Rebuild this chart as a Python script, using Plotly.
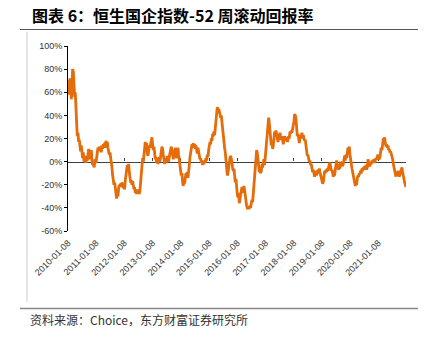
import plotly.graph_objects as go
import pandas as pd

# 52-week rolling return of Hang Seng China Enterprises Index (%)
rolling_return_pct = [
    # early 2010 - early 2011
    62, 70, 58, 72, 66, 54, 62, 80, 78, 62, 56, 60, 48, 40, 22, 25, 17, 19, 11, 9,
    14, 6, 3, 8, 0, 2, 5, -1, 4, 1, 7, 11, 2, 8, 3, 10, 1, -3, -1, -5,
    -2, 2, -1,
    # 2011
    4, 10, 12, 9, 13, 10, 13, 8, 14, 11, 15, 13, 16, 12, 18, 14, 17, 12, 10, 6,
    8, 4, 1, -5, -12, -15, -20, -18, -24, -28, -32, -27, -30, -23, -20, -22, -19, -21, -18, -20,
    # 2012
    -23, -20, -24, -16, -12, -8, -3, -6, -2, -9, -13, -18, -16, -20, -17, -21, -24, -22, -27, -24,
    -28, -25, -27, -24, -28, -25,
    # 2012 end - 2014
    -19, -10, -4, 3, 0, 8, 14, 17, 13, 16, 7, 5, 9, 14, 12, 17, 20, 21, 15, 10,
    13, 5, 2, 4, -1, 2, -2, 1, 4, 0, 3, 9, 13, 11, 6, 1, -2, 3, -1, 1,
    5, 2, 0, 4, 8, 11, 13, 9, 4, 2, 7, 10, 12, 6, 3, 8, 12, 6,
    # 2014 - 2016
    -1, -4, -8, -12, -10, -18, -21, -16, -19, -14, -10, -12, -9, -14, -10, -3, 4, 9, 13, 15,
    12, 16, 13, 15, 11, 14, 10, 7, 12, 9, 5, 2, 3, -1, 1, -3, 0, -2, 1, -1,
    3, 1, 6, 4, 10, 14, 17, 15, 20, 18, 24, 22, 26, 23, 30, 33, 44, 47, 45, 45,
    44, 40, 38, 40, 33, 25, 18, 14, 12, 8, 2, -6, -12, -10, -5, 0, 3, 5, 3, 0,
    -6, -8,
    # 2016 - 2017
    -6, -13, -18, -15, -25, -28, -31, -27, -36, -33, -28, -25, -22, -27, -24, -21, -25, -32, -35, -38,
    -40, -41, -39, -41, -38, -40, -36, -33, -35, -28, -22, -14, -5, 3, 10, 8, 1, -5, -9, -6,
    -10, -8, -2, -5, 0, 2, -3, 4, 10,
    # 2017 - 2018
    14, 19, 30, 38, 33, 24, 18, 14, 16, 11, 14, 20, 26, 22, 27, 24, 21, 17, 20, 23,
    25, 21, 19, 22, 16, 15, 19, 22, 20, 18, 21, 17, 19, 22, 20, 26, 24, 27, 25, 28,
    30, 35, 41, 40, 37, 28, 22, 24, 18, 16, 20, 23, 20, 25, 21, 23, 20, 18, 19, 12,
    # 2018 - 2021
    7, 5, 6, 3, 0, 1, -3, -2, -5, -9, -7, -10, -13, -11, -8, -12, -9, -7, -10, -6,
    -9, -12, -14, -16, -19, -18, -13, -8, -10, -7, -9, -6, -8, -4, -2, -1, -5, -8, -7, -11,
    -13, -11, -12, -7, -3, 1, -2, -4, -7, -3, -6, 0, -2, -1, -4, -2, 2, 5, 1, 6,
    3, 8, 12, 10, 13, 6, 0, -2, -6, -9, -12, -15, -19, -21, -18, -20, -14, -12, -13, -10,
    -11, -8, -10, -6, -8, -5, -7, -4, -6, -3, -7, -5, 2, -1, -3, -4, -1, -2, 1, -1,
    0, 2, -1, 1, 3, 2, 5, 6, 3, 2, 4, 7, 12, 10, 16, 20, 18, 21, 16, 13,
    15, 12, 14, 10, 11, 8, 9, 7, 5, 2, -2, -5, -8, -11, -13, -9, -12, -8, -10, -13,
    -11, -9, -6, -5, -9, -11, -15, -18, -21, -22,
]

start_date = "2010-01-08"
end_date = "2021-12-31"
dates = pd.date_range(start_date, end_date, periods=len(rolling_return_pct)).normalize()

tick_dates = [f"{y}-01-08" for y in range(2010, 2022)]
y_ticks = [-60, -40, -20, 0, 20, 40, 60, 80, 100]
y_labels = [f"{v}%" for v in y_ticks]

title_text = "<b>图表 6：恒生国企指数-52 周滚动回报率</b>"
source_text = "资料来源：Choice，东方财富证券研究所"

line_color = "#E46C0A"
x_range = [dates[0], dates[-1]]

fig = go.Figure()
fig.add_trace(go.Scatter(
    x=dates, y=rolling_return_pct, mode="lines",
    line=dict(color=line_color, width=2.8),
    showlegend=False, hoverinfo="skip",
))
# helper trace so the zero-line axis (x2) is drawn
fig.add_trace(go.Scatter(
    x=[dates[0], dates[-1]], y=[0, 0], xaxis="x2", mode="lines",
    line=dict(color="rgba(0,0,0,0)", width=0),
    showlegend=False, hoverinfo="skip",
))

fig.update_layout(
    width=439, height=338,
    margin=dict(l=68, r=33, t=46, b=107, autoexpand=False),
    paper_bgcolor="white", plot_bgcolor="white",
    font=dict(family="Liberation Sans, Arial, sans-serif", color="#333333"),
    xaxis=dict(
        type="date", range=x_range,
        tickmode="array", tickvals=tick_dates, ticktext=tick_dates,
        tickangle=-45, tickfont=dict(size=9, color="#333333"),
        showline=False, showgrid=False, zeroline=False, ticks="",
        ticklabelstandoff=4,
    ),
    xaxis2=dict(
        type="date", range=x_range, overlaying="x", anchor="free", position=0.375,
        side="bottom", showline=True, linecolor="#404040", linewidth=1.3,
        ticks="inside", ticklen=3, tickcolor="#404040", tickwidth=1,
        tickmode="array", tickvals=tick_dates, showticklabels=False,
        showgrid=False, zeroline=False, layer="below traces",
    ),
    yaxis=dict(
        range=[-60, 100], tickmode="array", tickvals=y_ticks, ticktext=y_labels,
        tickfont=dict(size=9, color="#333333"),
        showline=True, linecolor="black", linewidth=1,
        ticks="outside", ticklen=3, tickcolor="black",
        showgrid=False, zeroline=False,
    ),
    shapes=[
        dict(type="line", xref="paper", yref="paper", x0=-0.142, x1=1.0355, y0=1.0892, y1=1.0892,
             line=dict(color="#555555", width=1)),
        dict(type="line", xref="paper", yref="paper", x0=-0.1213, x1=-0.1213, y0=1.078, y1=-0.384,
             line=dict(color="#cccccc", width=1)),
        dict(type="line", xref="paper", yref="paper", x0=-0.142, x1=1.0355, y0=-0.4189, y1=-0.4189,
             line=dict(color="#888888", width=1.5)),
    ],
    annotations=[
        dict(text=title_text, xref="paper", yref="paper", x=-0.1124, y=1.1676,
             xanchor="left", yanchor="middle", showarrow=False,
             font=dict(family="Noto Sans CJK SC", size=16, color="black")),
        dict(text=source_text, xref="paper", yref="paper", x=-0.1183, y=-0.4757,
             xanchor="left", yanchor="middle", showarrow=False,
             font=dict(family="Noto Sans CJK SC", size=12, color="#333333")),
    ],
)

fig.write_html("out.html")
